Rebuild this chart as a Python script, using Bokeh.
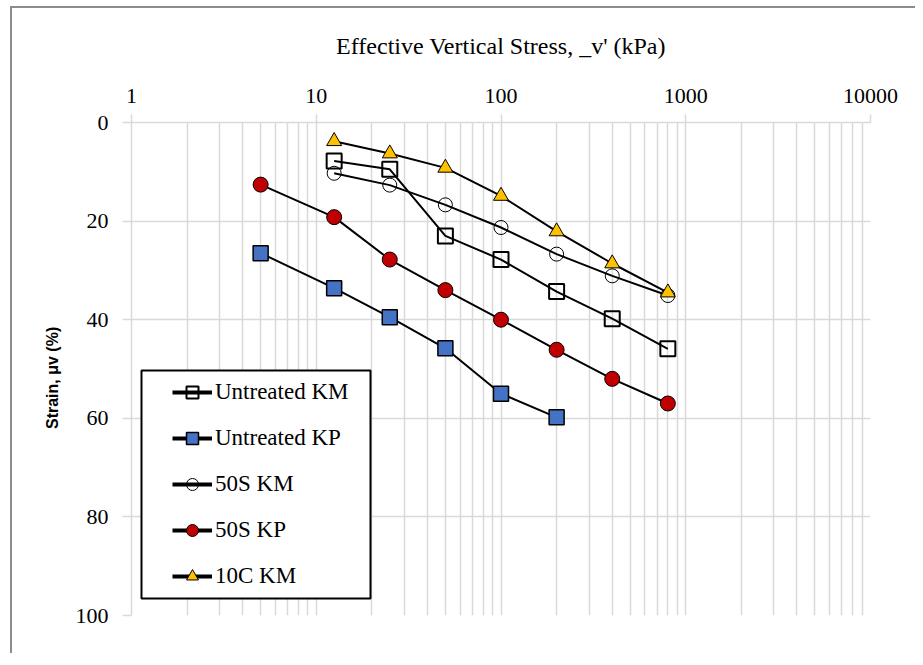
from bokeh.plotting import figure
from bokeh.models import (FixedTicker, Legend, LegendItem, BoxAnnotation,
                          BasicTickFormatter)
from bokeh.embed import file_html
from bokeh.resources import INLINE

# ---- data ----
x_ticks = [1, 10, 100, 1000, 10000]
x_tick_labels = ["1", "10", "100", "1000", "10000"]
x_minor_mult = [2, 3, 4, 5, 6, 7, 8, 9]
x_decades = [1, 10, 100, 1000]
y_ticks = [0, 20, 40, 60, 80, 100]

stress_km = [12.5, 25, 50, 100, 200, 400, 800]
untreated_km = [7.8, 9.5, 23.0, 27.8, 34.3, 39.8, 45.9]

stress_ukp = [5, 12.5, 25, 50, 100, 200]
untreated_kp = [26.5, 33.6, 39.5, 45.8, 55.0, 59.8]

s50_km = [10.3, 12.7, 16.7, 21.3, 26.7, 31.1, 35.1]

stress_50kp = [5, 12.5, 25, 50, 100, 200, 400, 800]
s50_kp = [12.6, 19.2, 27.8, 34.0, 40.0, 46.1, 52.0, 57.0]

c10_km = [3.8, 6.3, 9.2, 14.9, 22.1, 28.6, 34.5]

SERIF = "'Liberation Serif'"
GRID = "#d9d9d9"

p = figure(width=905, height=647, x_axis_type="log", x_axis_location="above",
           x_range=(1, 10000), y_range=(100, 0),
           output_backend="svg", toolbar_location=None,
           min_border_left=119, min_border_right=47,
           min_border_top=114, min_border_bottom=40)
p.styles = {"border-top": "2px solid #8c8c8c", "border-left": "2px solid #8c8c8c",
            "margin-left": "10px", "margin-top": "6px"}
p.outline_line_color = None

minor = [m * d for d in x_decades for m in x_minor_mult]
xt = FixedTicker(ticks=x_ticks, minor_ticks=minor)
yt = FixedTicker(ticks=y_ticks)

xa = p.xaxis[0]
xa.ticker = xt
xa.formatter = BasicTickFormatter(use_scientific=False)
xa.major_label_overrides = {t: l for t, l in zip(x_ticks, x_tick_labels)}
xa.axis_line_color = GRID
xa.axis_line_width = 1.5
xa.major_tick_line_color = GRID
xa.major_tick_line_width = 1.5
xa.major_tick_out = 8
xa.major_tick_in = 0
xa.minor_tick_out = 0
xa.minor_tick_in = 0
xa.major_label_text_font = SERIF
xa.major_label_text_font_size = "22px"
xa.major_label_text_color = "black"
xa.major_label_standoff = 12
xa.axis_label = "Effective Vertical Stress, _v' (kPa)"
xa.axis_label_text_font = SERIF
xa.axis_label_text_font_size = "24px"
xa.axis_label_text_font_style = "normal"
xa.axis_label_text_color = "black"
xa.axis_label_standoff = 27

ya = p.yaxis[0]
ya.ticker = yt
ya.axis_line_color = GRID
ya.axis_line_width = 1.5
ya.major_tick_line_color = GRID
ya.major_tick_line_width = 1.5
ya.major_tick_out = 9
ya.major_tick_in = 0
ya.minor_tick_out = 0
ya.minor_tick_in = 0
ya.major_label_text_font = SERIF
ya.major_label_text_font_size = "22px"
ya.major_label_text_color = "black"
ya.major_label_standoff = 14
ya.axis_label = "Strain,     \u03bcv (%)"
ya.axis_label_text_font = "Liberation Sans"
ya.axis_label_text_font_size = "16px"
ya.axis_label_text_font_style = "bold"
ya.axis_label_text_color = "black"
ya.axis_label_standoff = 12

p.xgrid.ticker = xt
p.ygrid.ticker = yt
for g in (p.xgrid[0], p.ygrid[0]):
    g.grid_line_color = GRID
    g.grid_line_width = 1.5
p.xgrid.minor_grid_line_color = GRID
p.xgrid.minor_grid_line_width = 1.5

series = [
    ("Untreated KM", stress_km, untreated_km, "square", None, 2.0, 15),
    ("Untreated KP", stress_ukp, untreated_kp, "square", "#4472c4", 1.5, 15),
    ("50S KM", stress_km, s50_km, "circle", None, 1.0, 14),
    ("50S KP", stress_50kp, s50_kp, "circle", "#c00000", 1.0, 15),
    ("10C KM", stress_km, c10_km, "triangle", "#ffc000", 1.0, 15),
]

items = []
for name, xs, ys, marker, fill, lw, size in series:
    p.line(xs, ys, line_color="black", line_width=2)
    if fill is None:
        sc = p.scatter(xs, ys, marker=marker, size=size, fill_alpha=0,
                       line_color="black", line_width=lw)
    else:
        sc = p.scatter(xs, ys, marker=marker, size=size, fill_color=fill,
                       line_color="black", line_width=lw)
    # single-point line: draws nothing on the plot, gives the thick legend stroke
    leg_line = p.line(xs[:1], ys[:1], line_color="black", line_width=4)
    items.append(LegendItem(label=name, renderers=[leg_line, sc]))

box = BoxAnnotation(left=10, right=239, bottom=17, top=245,
                    left_units="screen", right_units="screen",
                    bottom_units="screen", top_units="screen",
                    fill_color="white", fill_alpha=1.0,
                    line_color="black", line_width=2, line_alpha=1.0)
p.add_layout(box)

legend = Legend(items=items, location=(41, 24), padding=0, spacing=16,
                glyph_width=40, glyph_height=30, label_height=30,
                label_standoff=3, border_line_color=None,
                background_fill_alpha=0,
                label_text_font=SERIF, label_text_font_size="23px",
                label_text_color="black")
p.add_layout(legend)

open("out.html", "w").write(file_html(p, INLINE))
